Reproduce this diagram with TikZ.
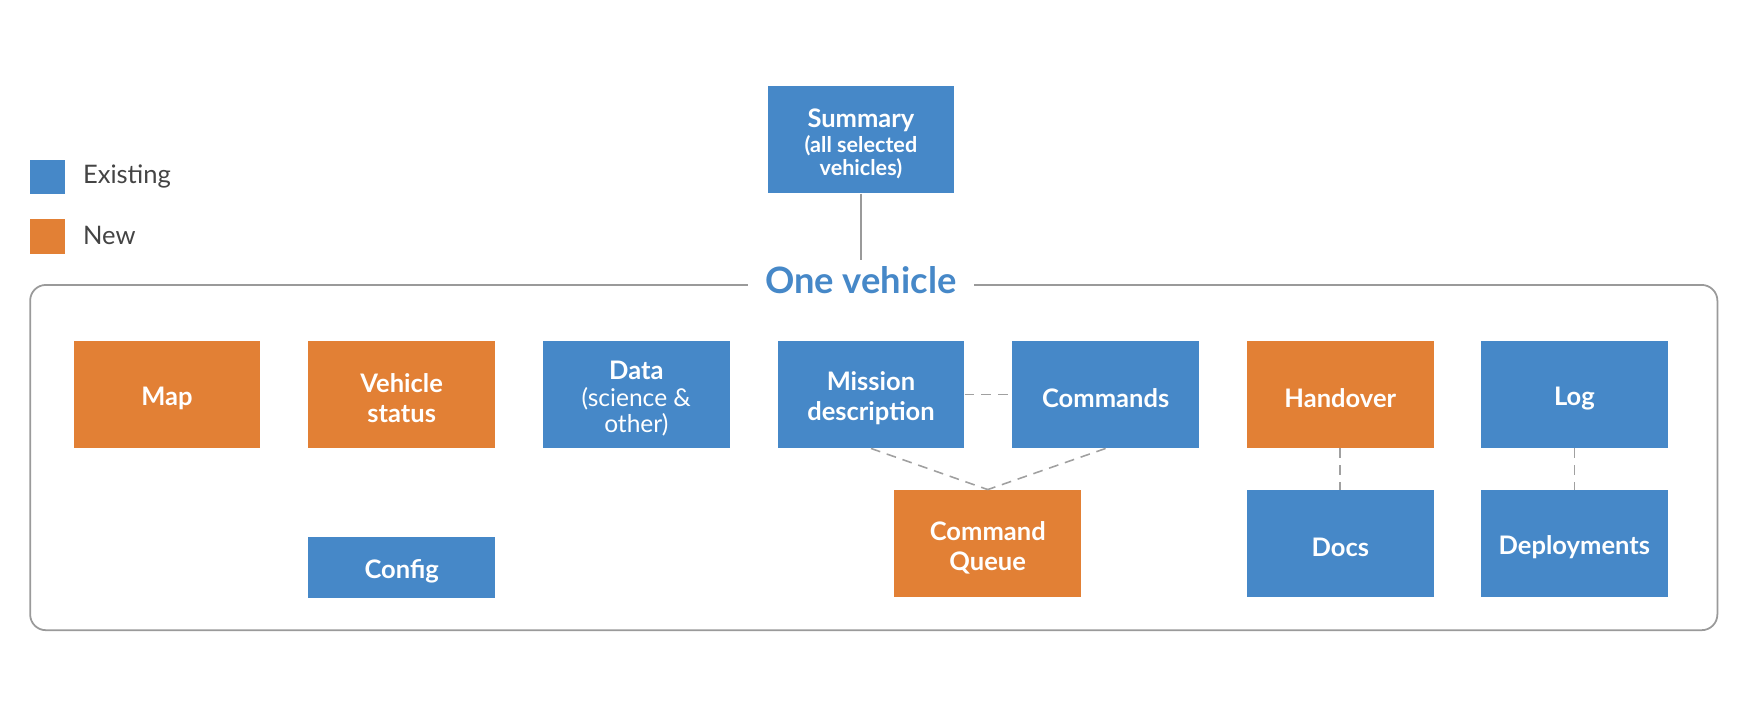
\documentclass[tikz,border=0pt]{standalone}
\usepackage{fontspec}
\setmainfont{Lato}
\definecolor{exblue}{HTML}{4688C8}
\definecolor{neworange}{HTML}{E28035}
\definecolor{framegray}{HTML}{9A9A9A}
\definecolor{dashgray}{HTML}{A0A0A0}
\definecolor{legendtext}{HTML}{444444}
\newcommand{\boxfont}{\fontsize{13}{15.4}\selectfont\bfseries}
\newcommand{\subfont}{\fontsize{11}{13}\selectfont}
\newcommand{\plainfont}{\fontsize{12.5}{14}\selectfont\mdseries}
\begin{document}
\begin{tikzpicture}[x=0.02cm, y=-0.02cm,
  box/.style={minimum width=3.34cm, minimum height=1.92cm, inner sep=0pt},
  existing/.style={box, fill=exblue},
  new/.style={box, fill=neworange},
  boxtext/.style={text=white, align=center, font=\boxfont, inner sep=0pt, yshift=-2pt},
  keybox/.style={minimum size=0.62cm, inner sep=0pt},
  keytext/.style={anchor=west, inner sep=0pt, text=legendtext,
    font=\fontsize{13}{15}\selectfont},
  link/.style={draw=dashgray, line width=0.8pt, dash pattern=on 5pt off 3.5pt}]
\useasboundingbox (0,0) rectangle (1568,639);
% legend
\node[keybox, fill=exblue] (keyold) at (42.5,158.5) {};
\node[keytext] (keyoldtxt) at (74,158) {Existing};
\node[keybox, fill=neworange] (keynew) at (42.5,211.5) {};
\node[keytext] (keynewtxt) at (74,211) {New};
% one vehicle frame
\draw[framegray, line width=0.9pt, rounded corners=8pt] (27,255) rectangle (1537,564);
\node[fill=white, text=exblue, font=\fontsize{18.5}{22}\selectfont\bfseries,
  inner xsep=9pt, inner ysep=3.5pt] (title) at (770.5,251) {One vehicle};
\node[existing, label={[boxtext]center:{Summary\\[-2.6pt]{\subfont (all selected}\\[-3.6pt]{\subfont vehicles)}}}]
  (summary) at (770.5,125) {};
\draw[framegray, line width=0.8pt] (summary.south) -- (title.north);
% top row
\node[new, label={[boxtext]center:Map}] (map) at (149.5,353) {};
\node[new, label={[boxtext]center:{Vehicle\\status}}] (status) at (359.5,353) {};
\node[existing, label={[boxtext]center:{Data\\[-1.5pt]{\plainfont (science \&}\\[-2.2pt]{\plainfont other)}}}]
  (data) at (569.5,353) {};
\node[existing, label={[boxtext]center:{Mission\\description}}] (mission) at (779.5,353) {};
\node[existing, label={[boxtext]center:Commands}] (commands) at (989.5,353) {};
\node[new, label={[boxtext]center:Handover}] (handover) at (1199.5,353) {};
\node[existing, label={[boxtext]center:Log}] (log) at (1409,353) {};
% bottom row
\node[existing, minimum height=1.08cm, label={[boxtext]center:Config}] (config) at (359.5,508) {};
\node[new, label={[boxtext]center:{Command\\Queue}}] (queue) at (884,486.5) {};
\node[existing, label={[boxtext]center:Docs}] (docs) at (1199.5,486.5) {};
\node[existing, label={[boxtext]center:Deployments}] (deploy) at (1409,486.5) {};
% dashed links
\draw[link] (mission.east) -- (commands.west);
\draw[link] (mission.south) -- (queue.north);
\draw[link] (commands.south) -- (queue.north);
\draw[link] (handover.south) -- (docs.north);
\draw[link] (log.south) -- (deploy.north);
\end{tikzpicture}
\end{document}
